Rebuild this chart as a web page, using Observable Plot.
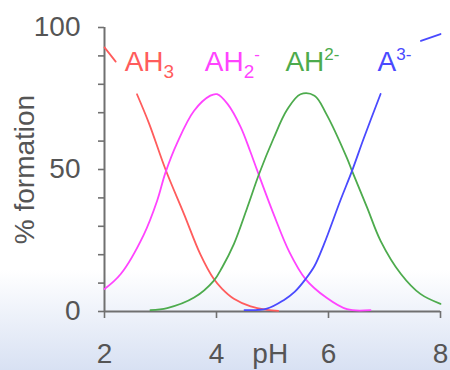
<!DOCTYPE html>
<html><head><meta charset="utf-8">
<script src="https://cdn.jsdelivr.net/npm/d3@7"></script>
<script src="https://cdn.jsdelivr.net/npm/@observablehq/plot@0.6"></script>
<style>
html,body{margin:0;padding:0;}
body{width:450px;height:370px;overflow:hidden;background:linear-gradient(to bottom,#ffffff 0%,#ffffff 73%,#d8e1f3 100%);}
</style></head><body><div id="chart"></div>
<script>
// Species distribution of a triprotic acid vs pH
const phAH3 = [2.0, 2.2, 2.4, 2.58, 2.8, 3.09, 3.42, 3.71, 3.95, 4.1, 4.31, 4.61, 4.9, 5.1];
const valAH3 = [93, 88, NaN, 76.5, 66, 50, 34.3, 20.2, 11.5, 8, 4.5, 1.8, 0.6, 0.2];

const phAH2 = [2.0, 2.29, 2.7, 2.94, 3.09, 3.3, 3.6, 3.89, 4.01, 4.2, 4.43, 4.6, 4.73, 5.02, 5.3, 5.59, 5.96, 6.33, 6.75];
const valAH2 = [7.9, 13.2, 27, 39, 49, 59.5, 70.7, 76, 76.5, 73, 65, 56.5, 49.5, 34.3, 21, 11.4, 4.9, 0.8, 0.5];

const phAH = [2.82, 3.12, 3.6, 3.95, 4.1, 4.31, 4.55, 4.76, 5.02, 5.26, 5.5, 5.75, 5.96, 6.33, 6.42, 6.69, 6.93, 7.29, 7.64, 8.0];
const valAH = [0.5, 1.2, 4.9, 10.8, 15.5, 23.7, 36.6, 48.4, 61, 71, 76.5, 76, 69.6, 54, 49.5, 36.6, 24.9, 13.3, 6.2, 2.7];

const phA = [4.5, 4.9, 5.2, 5.4, 5.59, 5.75, 5.92, 6.21, 6.42, 6.63, 6.93, 7.2, 7.65, 8.0];
const valA = [0.5, 1, 4, 7, 11.4, 16, 23.7, 39, 49.5, 61, 76.6, NaN, 95.3, 97.7];

const seriesNames = ["AH3", "AH2-", "AH2 2-", "A3-"];
const seriesColors = ["#ff5c5c", "#ff44ff", "#4dab4d", "#4a4aff"];

const labelBase = ["AH", "AH", "AH", "A"];
const labelSub = ["3", "2", "", ""];
const labelSup = ["", "-", "2-", "3-"];
const labelX = [2.36, 3.79, 5.23, 6.875];
const labelY = [88, 88, 88, 88];

const xTicks = [2, 4, 6, 8];
const yTicks = d3.range(0, 101, 10);
const yLabelTicks = [0, 50, 100];

const rows = [];
[[phAH3, valAH3], [phAH2, valAH2], [phAH, valAH], [phA, valA]].forEach(([xs, ys], k) => {
  xs.forEach((x, i) => rows.push({pH: x, v: ys[i], s: seriesNames[k]}));
});
const labels = labelBase.map((b, i) => ({x: labelX[i], y: labelY[i], base: b, sub: labelSub[i], sup: labelSup[i], color: seriesColors[i]}));

const font = "'Liberation Sans', Arial, sans-serif";
const svg = Plot.plot({
  width: 450,
  height: 370,
  marginLeft: 104,
  marginRight: 10,
  marginTop: 27,
  marginBottom: 59,
  style: {background: "transparent", fontFamily: font, overflow: "visible"},
  x: {domain: [2, 8]},
  y: {domain: [0, 100]},
  color: {domain: seriesNames, range: seriesColors},
  marks: [
    Plot.axisY({ticks: yTicks, tickSize: 6, tickPadding: 18, tickFormat: d => yLabelTicks.includes(d) ? String(d) : "", label: null, fontSize: 28, stroke: "#707070", fill: "#555", strokeWidth: 1.6}),
    Plot.axisX({ticks: xTicks, tickSize: 7, tickPadding: 25, tickFormat: d => String(d), label: null, fontSize: 28, stroke: "#707070", fill: "#555", strokeWidth: 1.6}),
    Plot.ruleX([2], {y1: 0, y2: 100, stroke: "#707070", strokeWidth: 2}),
    Plot.ruleY([0], {x1: 2, x2: 8, stroke: "#707070", strokeWidth: 2}),
    Plot.line(rows, {x: "pH", y: "v", z: "s", stroke: "s", strokeWidth: 1.8, curve: "catmull-rom"}),
    Plot.text(["% formation"], {frameAnchor: "left", text: d => d, rotate: -90, dx: -79, fontSize: 28, fill: "#555", textAnchor: "middle", lineAnchor: "middle"}),
    Plot.text(["pH"], {x: () => 4.96, frameAnchor: "bottom", text: d => d, dy: 43, fontSize: 28, fill: "#555", textAnchor: "middle", lineAnchor: "middle"}),
    Plot.text(labels, {x: "x", y: "y", text: "base", fill: "color", fontSize: 28, textAnchor: "start", lineAnchor: "middle"})
  ]
});
document.getElementById("chart").appendChild(svg);

// Sub/superscripts for species labels
const ns = "http://www.w3.org/2000/svg";
const used = new Set();
labels.forEach(d => {
  const cands = Array.from(svg.querySelectorAll("text")).filter(t =>
    !used.has(t) && t.textContent === d.base &&
    (t.getAttribute("fill") || "").toLowerCase() === d.color.toLowerCase());
  const t = cands[0];
  if (!t) return;
  used.add(t);
  let shift = 0;
  if (d.sub) {
    const ts = document.createElementNS(ns, "tspan");
    ts.setAttribute("font-size", "19");
    ts.setAttribute("dy", "7");
    ts.textContent = d.sub;
    t.appendChild(ts);
    shift = 7;
  }
  if (d.sup) {
    const ts = document.createElementNS(ns, "tspan");
    ts.setAttribute("font-size", "17");
    ts.setAttribute("dy", String(-shift - 11));
    ts.textContent = d.sup;
    t.appendChild(ts);
  }
});
</script></body></html>
